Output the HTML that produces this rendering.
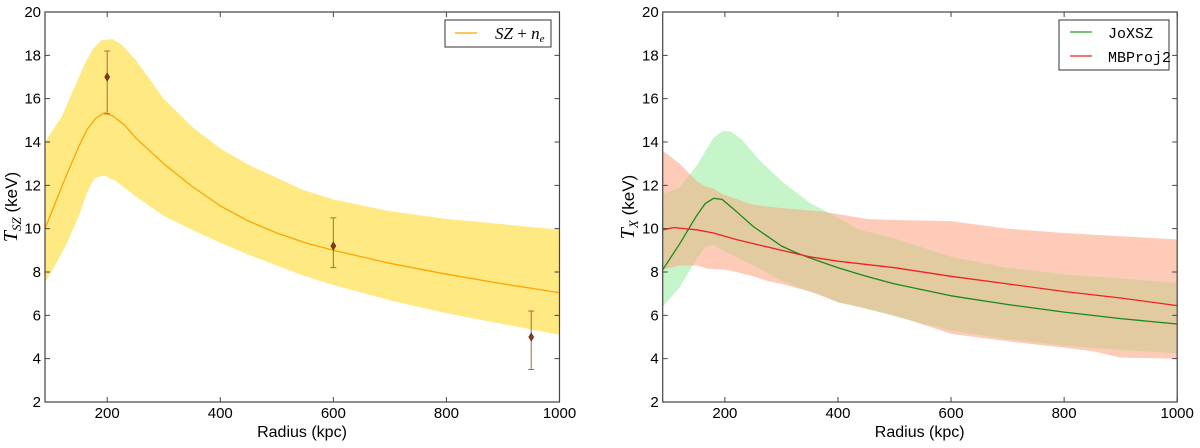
<!DOCTYPE html>
<html><head><meta charset="utf-8"><style>
body{margin:0;background:#fff;}
</style></head><body>
<svg id="fig" width="1200" height="443" viewBox="0 0 1200 443" xmlns="http://www.w3.org/2000/svg" style="font-family:'Liberation Sans','DejaVu Sans',sans-serif">
<defs>
<clipPath id="clipL"><rect x="45" y="12" width="514.5" height="390"/></clipPath>
<clipPath id="clipR"><rect x="662.7" y="12" width="514.5" height="390"/></clipPath>
<clipPath id="redClip"><path id="redClipPath" d=""/></clipPath>
</defs>
<g id="left"></g>
<g id="right"></g>
</svg>
<script>
// ---- Left panel data (T_SZ) ----
const szX = [90,100,120,140,160,175,190,210,225,250,275,300,350,400,450,500,545,600,700,800,900,1000];
const szUpper = [14,14.4,15.2,16.4,17.6,18.3,18.7,18.75,18.5,17.8,16.9,16.0,14.7,13.7,12.95,12.35,11.8,11.35,10.8,10.45,10.2,9.95];
const szLowerX = [90,110,130,150,165,178,195,215,250,300,350,400,450,500,545,600,700,800,900,1000];
const szLower = [7.5,8.4,9.4,10.6,11.7,12.35,12.45,12.2,11.5,10.6,9.95,9.35,8.8,8.3,7.85,7.4,6.7,6.1,5.6,5.1];
const szCenterX = [90,110,130,150,165,180,195,210,230,250,275,300,350,400,450,500,550,600,700,800,900,1000];
const szCenter = [10,11.3,12.6,13.8,14.6,15.1,15.35,15.2,14.8,14.2,13.6,13.0,11.95,11.05,10.35,9.8,9.35,9.0,8.4,7.9,7.45,7.05];
const ptX = [200,600,950];
const ptY = [17,9.2,5.0];
const ptLo = [15.3,8.2,3.5];
const ptHi = [18.2,10.5,6.2];
// ---- Right panel data (T_X) ----
const joX = [90,120,150,165,180,195,220,250,275,300,325,350,400,450,500,600,700,800,900,1000];
const joCenter = [8.1,9.3,10.6,11.15,11.4,11.35,10.8,10.1,9.65,9.2,8.9,8.65,8.2,7.8,7.45,6.9,6.5,6.15,5.85,5.6];
const joUpX = [90,120,150,180,195,210,230,260,300,350,400,438,500,600,700,800,900,1000];
const joUpper = [11.6,11.9,12.9,14.2,14.5,14.5,14.1,13.2,12.2,11.2,10.5,9.95,9.55,8.7,8.2,7.9,7.7,7.5];
const joLoX = [90,120,150,165,180,200,250,300,350,370,400,438,500,600,700,800,900,1000];
const joLower = [6.4,7.3,8.6,9.15,9.25,8.95,8.3,7.6,7.1,6.95,6.6,6.4,5.95,5.3,4.9,4.6,4.4,4.25];
const mbX = [90,110,150,180,220,300,350,400,500,600,700,800,900,1000];
const mbCenter = [9.95,10.05,9.95,9.8,9.5,9.0,8.7,8.5,8.2,7.8,7.45,7.1,6.8,6.45];
const mbUpX = [90,120,150,165,180,195,250,300,370,450,500,600,700,800,900,1000];
const mbUpper = [13.6,13.0,12.2,11.95,11.85,11.6,11.1,10.95,10.8,10.45,10.4,10.35,10.0,9.8,9.65,9.5];
const mbLoX = [90,120,150,170,200,220,250,280,300,350,400,450,500,600,700,800,850,900,1000];
const mbLower = [8.1,8.3,8.3,8.15,8.1,8.0,7.8,7.55,7.45,7.1,6.6,6.3,6.0,5.15,4.8,4.5,4.35,4.05,4.0];
const xTicks = [200,400,600,800,1000];
const yTicks = [2,4,6,8,10,12,14,16,18,20];

const NS='http://www.w3.org/2000/svg';
function mk(tag, attrs, parent){const e=document.createElementNS(NS,tag);for(const k in attrs)e.setAttribute(k,attrs[k]);parent.appendChild(e);return e;}
function axes(x0){
  const xs=v=>x0+(v-90)*(514.5/910);
  const ys=v=>402-(v-2)*(390/18);
  return {xs,ys};
}
function linePts(xa,ya,A){return xa.map((x,i)=>A.xs(x).toFixed(1)+','+A.ys(ya[i]).toFixed(1)).join(' ');}
function bandPath(xu,yu,xl,yl,A){
  let d='M'+xu.map((x,i)=>A.xs(x).toFixed(1)+','+A.ys(yu[i]).toFixed(1)).join(' L');
  for(let i=xl.length-1;i>=0;i--) d+=' L'+A.xs(xl[i]).toFixed(1)+','+A.ys(yl[i]).toFixed(1);
  return d+' Z';
}
function frame(g,x0,A,ylabelSub,lx){
  const fr=mk('rect',{x:x0,y:12,width:514.5,height:390,fill:'none',stroke:'#444','stroke-width':1.2},g);
  
  
  xTicks.forEach(t=>{
    const x=A.xs(t);
    const tk=mk('path',{d:`M${x},402 v-5 M${x},12 v5`,stroke:'#444','stroke-width':1},g);
    
    
    const tl=mk('text',{x:x,y:418,'font-size':15,'text-anchor':'middle',fill:'#000'},g);
    tl.textContent=t;
    
    
  });
  yTicks.forEach(t=>{
    const y=A.ys(t);
    const tk=mk('path',{d:`M${x0},${y} h5 M${x0+514.5},${y} h-5`,stroke:'#444','stroke-width':1},g);
    
    
    const tl=mk('text',{x:x0-4,y:y+5,'font-size':15,'text-anchor':'end',fill:'#000'},g);
    tl.textContent=t;
    
    
  });
  const xl=mk('text',{x:x0+257,y:437,'font-size':16,'text-anchor':'middle',fill:'#000'},g);
  xl.textContent='Radius (kpc)';
  
  
  const yl=mk('text',{x:0,y:0,'font-size':17,'text-anchor':'middle',fill:'#000',transform:`translate(${lx},207) rotate(-90)`},g);
  yl.innerHTML=`<tspan style="font-family:'Liberation Serif',serif;font-style:italic" font-size="20">T</tspan><tspan style="font-family:'Liberation Serif',serif;font-style:italic" font-size="13" dy="4">${ylabelSub}</tspan><tspan dy="-4"> (keV)</tspan>`;
  
  
}
// Left
(function(){
  const g=document.getElementById('left');
  const A=axes(45);
  const c=mk('g',{'clip-path':'url(#clipL)'},g);
  const band=mk('path',{d:bandPath(szX,szUpper,szLowerX,szLower,A),fill:'#fee982'},c);
  
  
  const ln=mk('polyline',{points:linePts(szCenterX,szCenter,A),fill:'none',stroke:'#ffa500','stroke-width':1.3,'stroke-linejoin':'round'},c);
  
  
  ptX.forEach((x,i)=>{
    const X=A.xs(x),Y=A.ys(ptY[i]),lo=A.ys(ptLo[i]),hi=A.ys(ptHi[i]);
    const eb=mk('path',{d:`M${X},${lo} V${hi} M${X-3},${lo} h6 M${X-3},${hi} h6`,stroke:'#b5653a','stroke-width':1},g);
    
    
    const m=mk('path',{d:`M${X},${Y-4} L${X+2.5},${Y} L${X},${Y+4} L${X-2.5},${Y} Z`,fill:'#8b3a1a',stroke:'#4a2a10','stroke-width':0.6},g);
    
    
  });
  frame(g,45,A,'SZ',17);
  const lg=mk('g',{},g);
  
  
  mk('rect',{x:445,y:20,width:106,height:27,fill:'#fff',stroke:'#333','stroke-width':1},lg);
  mk('line',{x1:455,x2:477,y1:33,y2:33,stroke:'#ffa500','stroke-width':1.3},lg);
  const t=mk('text',{x:495,y:39,'font-size':17,style:"font-family:'Liberation Serif',serif;font-style:italic"},lg);
  t.innerHTML='SZ<tspan style="font-style:normal"> + </tspan>n<tspan font-size="11" dy="3">e</tspan>';
  
  
})();
// Right
(function(){
  const g=document.getElementById('right');
  const A=axes(662.7);
  const c=mk('g',{'clip-path':'url(#clipR)'},g);
  const redD=bandPath(mbUpX,mbUpper,mbLoX,mbLower,A);
  const greenD=bandPath(joUpX,joUpper,joLoX,joLower,A);
  document.getElementById('redClipPath').setAttribute('d',redD);
  const rb=mk('path',{d:redD,fill:'#fecbb8'},c);
  
  
  const gb=mk('path',{d:greenD,fill:'#c5f5c9'},c);
  
  
  const ob=mk('path',{d:greenD,fill:'#e2cba0','clip-path':'url(#redClip)'},c);
  
  
  const gl=mk('polyline',{points:linePts(joX,joCenter,A),fill:'none',stroke:'#1a8a1a','stroke-width':1.3,'stroke-linejoin':'round'},c);
  
  
  const rl=mk('polyline',{points:linePts(mbX,mbCenter,A),fill:'none',stroke:'#ee2222','stroke-width':1.3,'stroke-linejoin':'round'},c);
  
  
  frame(g,662.7,A,'X',634);
  const lg=mk('g',{},g);
  
  
  mk('rect',{x:1059,y:20,width:110,height:50,fill:'#fff',stroke:'#333','stroke-width':1},lg);
  mk('line',{x1:1070,x2:1092,y1:32,y2:32,stroke:'#2a9a2a','stroke-width':1.3},lg);
  mk('line',{x1:1070,x2:1092,y1:56,y2:56,stroke:'#ee2222','stroke-width':1.3},lg);
  const t1=mk('text',{x:1108,y:38,'font-size':15,style:"font-family:'Liberation Mono',monospace"},lg);
  t1.textContent='JoXSZ';
  
  
  const t2=mk('text',{x:1108,y:62,'font-size':15,style:"font-family:'Liberation Mono',monospace"},lg);
  t2.textContent='MBProj2';
  
  
})();
</script>
</body></html>
